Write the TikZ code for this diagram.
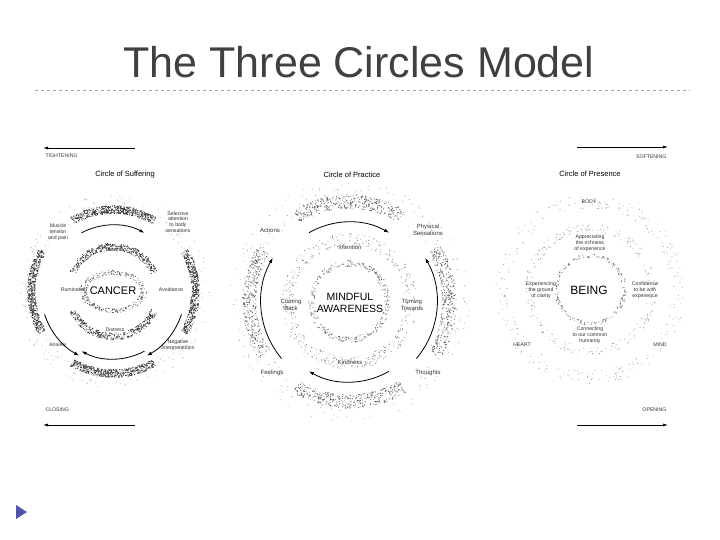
\documentclass[tikz,border=0pt]{standalone}
\usepackage{fontspec}
\setmainfont{Liberation Sans}
\usetikzlibrary{arrows.meta}
\newcommand\speck[6]{\fill[black!#6] \foreach \k in {1,...,#3}{\pgfextra{\pgfmathsetmacro\aa{#4+rnd*(#5-(#4))}\pgfmathsetmacro\rr{#1+(rnd-0.5)*#2}} (\aa:\rr) rectangle ++(0.8,0.8)};}
\newcommand\speckell[4]{\fill[black!60] \foreach \k in {1,...,#3}{\pgfextra{\pgfmathsetmacro\aa{rnd*360}\pgfmathsetmacro\rr{1+(rnd-0.5)*#4}\pgfmathsetmacro\xx{#1*\rr*cos(\aa)}\pgfmathsetmacro\yy{#2*\rr*sin(\aa)}} (\xx,\yy) rectangle ++(0.8,0.8)};}
\tikzset{lab/.style={font=\fontsize{5.2}{5.9}\selectfont,align=center,text=black!80},
 lab2/.style={font=\fontsize{6}{6.8}\selectfont,align=center,text=black!80},
 ctitle/.style={font=\fontsize{7.5}{8.5}\selectfont},
 arr/.style={-{Latex[length=5pt,width=3.5pt]},line width=0.8pt},
 side/.style={-{Latex[length=5pt,width=3pt]},line width=0.7pt}}
\begin{document}
\begin{tikzpicture}[x=1pt,y=-1pt]
\pgfmathsetseed{7}
\useasboundingbox (0,0) rectangle (720,540);
\fill[white] (0,0) rectangle (720,540);
\node[font=\fontsize{43}{45}\selectfont,text=black!75] (title) at (359,62) {The Three Circles Model};
\draw[black!35,dashed,line width=0.6pt] (35,90) -- (690,90);
\fill[blue!35!gray] (16,505) -- (27,512) -- (16,519) -- cycle;
% side arrows
\coordinate (t1) at (135,148); \coordinate (t2) at (43,148);
\draw[side] (t1) -- (t2);
\node[lab,anchor=west] (tight) at (42,156) {TIGHTENING};
\coordinate (c1) at (135,425); \coordinate (c2) at (43,425);
\draw[side] (c1) -- (c2);
\node[lab,anchor=west] (clos) at (42,410) {CLOSING};
\coordinate (s1) at (577,147); \coordinate (s2) at (668,147);
\draw[side] (s1) -- (s2);
\node[lab,anchor=east] (soft) at (670,157) {SOFTENING};
\coordinate (o1) at (577,425); \coordinate (o2) at (668,425);
\draw[side] (o1) -- (o2);
\node[lab,anchor=east] (open) at (670,410) {OPENING};
% ---- Circle 1
\node[ctitle] (ct1) at (125,175) {Circle of Suffering};
\begin{scope}[shift={(113,292)},y=1pt]
 \speck{82}{8}{550}{60}{120}{75}
 \speck{82}{8}{550}{150}{210}{75}
 \speck{82}{8}{550}{240}{300}{75}
 \speck{82}{8}{550}{-30}{30}{75}
 \speck{88}{18}{250}{0}{360}{30}
 \speck{45}{7}{400}{25}{155}{75}
 \speck{45}{7}{400}{205}{335}{75}
 \speckell{30}{19}{300}{0.22}
 \draw[arr] (118:67) arc (118:62:67);
 \draw[arr] (-18:72) arc (-18:-62:72);
 \draw[arr] (-62:67) arc (-62:-118:67);
 \draw[arr] (198:72) arc (198:242:72);
\end{scope}
\node[font=\fontsize{11}{12}\selectfont] (cancer) at (113,291) {CANCER};
\node[lab] (muscle) at (58,232) {Muscle\\tension\\and pain};
\node[lab] (select) at (178,222) {Selective\\attention\\to body\\sensations};
\node[lab] (trauma) at (114,250) {Trauma};
\node[lab] (rumi) at (74,290) {Rumination};
\node[lab] (avoid) at (171,290) {Avoidance};
\node[lab] (distr) at (115,330) {Distress};
\node[lab] (anx) at (58,345) {Anxiety};
\node[lab] (neg) at (178,345) {Negative\\interpretations};
% ---- Circle 2
\node[ctitle] (ct2) at (352,175) {Circle of Practice};
\begin{scope}[shift={(349,302)},y=1pt]
 \speck{100}{14}{380}{58}{122}{60}
 \speck{100}{14}{380}{148}{212}{60}
 \speck{100}{14}{380}{238}{302}{60}
 \speck{100}{14}{380}{-32}{32}{60}
 \speck{108}{26}{300}{0}{360}{35}
 \speck{62}{12}{450}{0}{360}{45}
 \speck{38}{6}{350}{0}{360}{55}
 \draw[arr] (120:80) arc (120:60:80);
 \draw[arr] (-40:88) arc (-40:30:88);
 \draw[arr] (-60:80) arc (-60:-120:80);
 \draw[arr] (220:88) arc (220:150:88);
\end{scope}
\node[font=\fontsize{10.5}{11.5}\selectfont,align=center] (mind) at (350,303) {MINDFUL\\AWARENESS};
\node[lab2] (act) at (270,230) {Actions};
\node[lab2] (phys) at (428,230) {Physical\\Sensations};
\node[lab2] (inten) at (350,247) {Intention};
\node[lab2] (back) at (291,305) {Coming\\Back};
\node[lab2] (turn) at (412,305) {Turning\\Towards};
\node[lab2] (kind) at (350,362) {Kindness};
\node[lab2] (feel) at (272,373) {Feelings};
\node[lab2] (thou) at (428,373) {Thoughts};
% ---- Circle 3
\node[ctitle] (ct3) at (590,174) {Circle of Presence};
\begin{scope}[shift={(590,290)},y=1pt]
 \speck{34}{4}{200}{0}{360}{55}
 \speck{62}{8}{240}{0}{360}{40}
 \speck{88}{14}{280}{0}{360}{35}
\end{scope}
\node[font=\fontsize{12}{13}\selectfont] (being) at (589,290) {BEING};
\node[lab] (body) at (589,202) {BODY};
\node[lab] (appr) at (590,243) {Appreciating\\the richness\\of experience};
\node[lab] (expe) at (541,290) {Experiencing\\the ground\\of clarity};
\node[lab] (conf) at (645,290) {Confidence\\to be with\\experience};
\node[lab] (conn) at (590,335) {Connecting\\to our common\\humanity};
\node[lab] (heart) at (522,345) {HEART};
\node[lab] (mindl) at (660,345) {MIND};
\end{tikzpicture}
\end{document}
